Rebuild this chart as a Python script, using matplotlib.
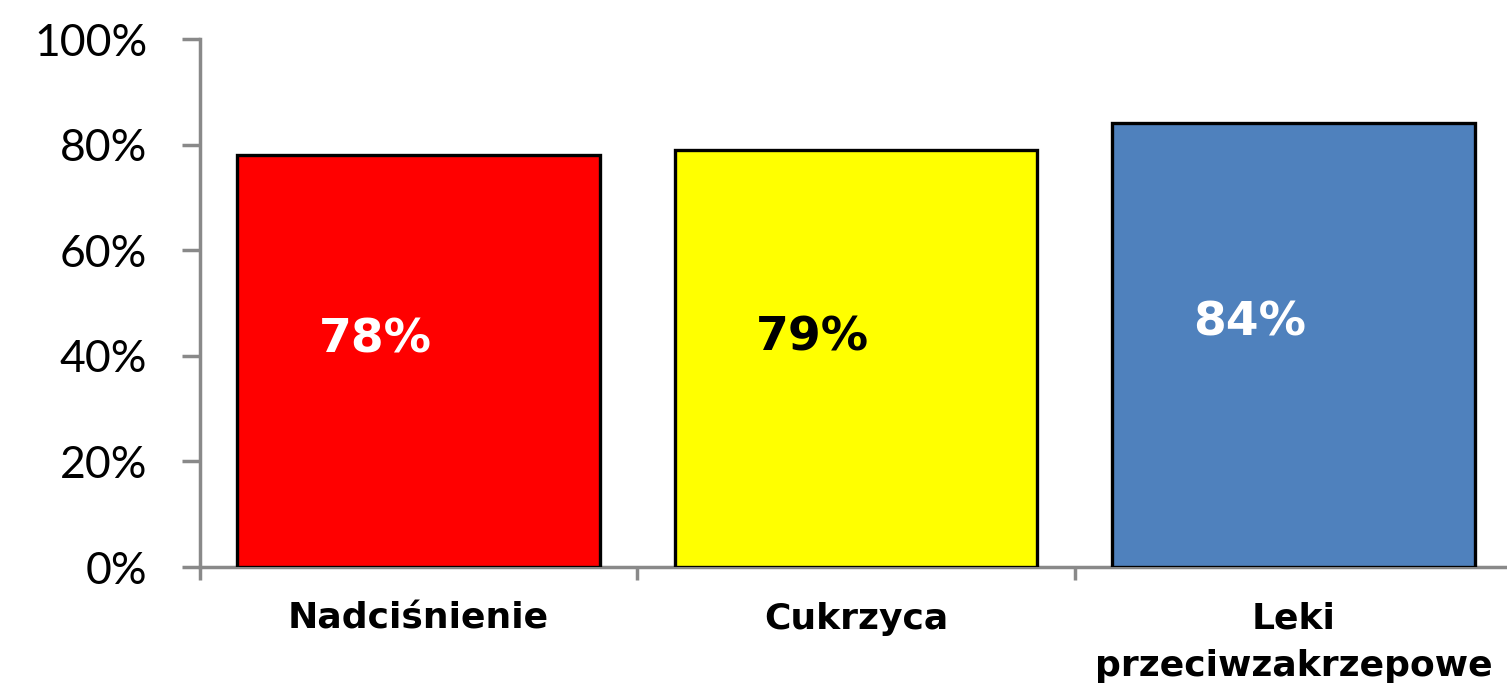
import matplotlib.pyplot as plt
from matplotlib.ticker import FixedLocator, PercentFormatter

# data
categories = ["Nadciśnienie", "Cukrzyca", "Leki\nprzeciwzakrzepowe"]
values = [78, 79, 84]
bar_colors = ["#FF0000", "#FFFF00", "#4F81BD"]
label_colors = ["white", "black", "white"]

SPINE = "#898989"

fig = plt.figure(figsize=(15.07, 6.93), dpi=100)
ax = fig.add_axes([200 / 1507, 126 / 693, 1312 / 1507, 528 / 693])

x = range(len(categories))
ax.bar(x, values, width=0.83, color=bar_colors, edgecolor="black", linewidth=2.4, zorder=3)

for xi, v, tc in zip(x, values, label_colors):
    ax.text(xi - 0.1, v * 0.55, f"{v}%", ha="center", va="center",
            fontsize=34, fontweight="bold", color=tc, family="DejaVu Sans", zorder=4)

ax.set_xlim(-0.5, 2.5)
ax.set_ylim(0, 100)
ax.set_yticks(range(0, 101, 20))
ax.yaxis.set_major_formatter(PercentFormatter(decimals=0))

ax.set_xticks(list(x))
ax.set_xticklabels(categories, fontsize=26, fontweight="heavy", family="DejaVu Sans",
                   va="top", linespacing=1.5)
ax.xaxis.set_minor_locator(FixedLocator([-0.5, 0.5, 1.5, 2.5]))
ax.tick_params(axis="x", which="major", length=0, pad=25)
ax.tick_params(axis="x", which="minor", length=9, width=2.5, color=SPINE, direction="out")
ax.tick_params(axis="y", length=13, width=2.5, color=SPINE, pad=25, labelsize=32)
for lbl in ax.get_yticklabels():
    lbl.set_family("Lato")

for s in ["top", "right"]:
    ax.spines[s].set_visible(False)
for s in ["left", "bottom"]:
    ax.spines[s].set_color(SPINE)
    ax.spines[s].set_linewidth(2.5)

fig.savefig("out.png", dpi=100, facecolor="white")
